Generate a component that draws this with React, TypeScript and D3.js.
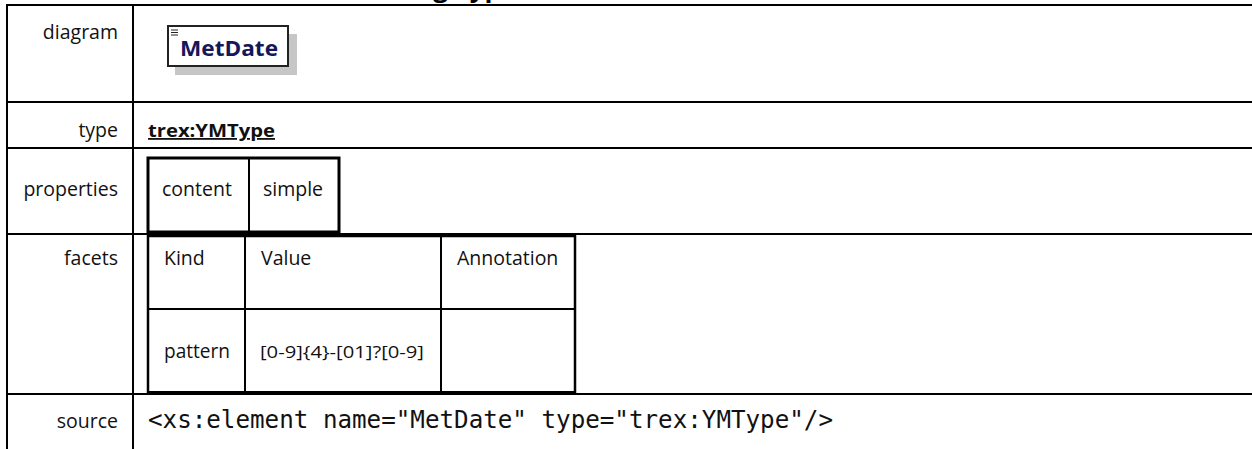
import { useEffect, useRef } from 'react';
import * as d3 from 'd3';

// row labels of the documentation table
const rowLabels = ['diagram', 'type', 'properties', 'facets', 'source'];
const elementName = 'MetDate';
const typeName = 'trex:YMType';
const propertyCells = ['content', 'simple'];
const facetHeaders = ['Kind', 'Value', 'Annotation'];
const facetRows = [['pattern', '[0-9]{4}-[01]?[0-9]', '']];
const sourceText = '<xs:element name="MetDate" type="trex:YMType"/>';

const W = 1252;
const H = 449;
const FONT = '"Open Sans", "Noto Sans", sans-serif';

export default function App() {
  const svgRef = useRef<SVGSVGElement>(null);

  useEffect(() => {
    if (!svgRef.current) return;
    const svg = d3.select(svgRef.current);
    svg.selectAll('*').remove();

    // row boundaries (top of each row) + bottom of the last visible one
    const rowTop = d3.scaleOrdinal<string, number>()
      .domain(rowLabels)
      .range([5, 102, 148, 234, 394]);
    const baseline = d3.scaleOrdinal<string, number>()
      .domain(rowLabels)
      .range([39, 137, 196, 265, 428]);

    const colLeft = 7;
    const colDiv = 133;
    const contentX = 148;

    // cut-off heading above the table
    svg.append('text')
      .attr('x', 118).attr('y', -3)
      .attr('font-family', FONT).attr('font-weight', 700).attr('font-size', 26)
      .text('MetDate element: Timing Type, ...');

    const g = svg.append('g');

    // horizontal row lines
    g.selectAll('line.row')
      .data(rowLabels)
      .enter()
      .append('line')
      .attr('x1', colLeft).attr('x2', W)
      .attr('y1', (d) => rowTop(d)).attr('y2', (d) => rowTop(d))
      .attr('stroke', '#000').attr('stroke-width', 2);

    // vertical lines
    [colLeft, colDiv].forEach((x) => {
      g.append('line')
        .attr('x1', x).attr('x2', x).attr('y1', 4).attr('y2', H)
        .attr('stroke', '#000').attr('stroke-width', 2);
    });

    // labels
    g.selectAll('text.lbl')
      .data(rowLabels)
      .enter()
      .append('text')
      .attr('x', 118)
      .attr('y', (d) => baseline(d))
      .attr('text-anchor', 'end')
      .attr('font-family', FONT).attr('font-size', 19.5).attr('fill', '#111')
      .text((d) => d);

    // diagram box
    const bx = 168, by = 26, bw = 120, bh = 40;
    g.append('rect').attr('x', bx + 7).attr('y', by + 8).attr('width', bw + 2).attr('height', bh + 1)
      .attr('fill', '#c6c6c6');
    g.append('rect').attr('x', bx).attr('y', by).attr('width', bw).attr('height', bh)
      .attr('fill', '#fff').attr('stroke', '#222').attr('stroke-width', 2);
    [0, 1, 2].forEach((i) => {
      g.append('line').attr('x1', bx + 3).attr('x2', bx + 10)
        .attr('y1', by + 4 + i * 2.5).attr('y2', by + 4 + i * 2.5)
        .attr('stroke', '#222').attr('stroke-width', 1);
    });
    g.append('text')
      .attr('x', bx + 12).attr('y', by + 30)
      .attr('font-family', FONT).attr('font-weight', 700).attr('font-size', 21)
      .attr('fill', '#14185a')
      .attr('textLength', 98).attr('lengthAdjust', 'spacingAndGlyphs')
      .text(elementName);

    // type link
    g.append('text')
      .attr('x', contentX).attr('y', baseline('type'))
      .attr('font-family', FONT).attr('font-weight', 700).attr('font-size', 18)
      .attr('fill', '#111').attr('text-decoration', 'underline')
      .attr('textLength', 127).attr('lengthAdjust', 'spacingAndGlyphs')
      .text(typeName);

    // properties inner table
    const propX = d3.scaleOrdinal<number, number>().domain([0, 1, 2]).range([148, 249, 339]);
    const pTop = 158, pBot = 232;
    g.append('rect').attr('x', 148).attr('y', pTop).attr('width', 339 - 148).attr('height', pBot - pTop)
      .attr('fill', 'none').attr('stroke', '#000').attr('stroke-width', 3);
    g.append('line').attr('x1', propX(1)).attr('x2', propX(1)).attr('y1', pTop).attr('y2', pBot)
      .attr('stroke', '#000').attr('stroke-width', 2);
    g.selectAll('text.prop')
      .data(propertyCells)
      .enter()
      .append('text')
      .attr('x', (_, i) => propX(i) + 14)
      .attr('y', baseline('properties'))
      .attr('font-family', FONT).attr('font-size', 19.5).attr('fill', '#111')
      .text((d) => d);

    // facets inner table
    const fx = d3.scaleOrdinal<number, number>().domain([0, 1, 2, 3]).range([148, 245, 441, 575]);
    const fTop = 236, fMid = 309, fBot = 393;
    g.append('rect').attr('x', 148).attr('y', fTop).attr('width', 575 - 148).attr('height', fBot - fTop)
      .attr('fill', 'none').attr('stroke', '#000').attr('stroke-width', 2.5);
    g.append('line').attr('x1', 148).attr('x2', 575).attr('y1', fBot).attr('y2', fBot)
      .attr('stroke', '#000').attr('stroke-width', 4);
    g.append('line').attr('x1', 148).attr('x2', 575).attr('y1', fMid).attr('y2', fMid)
      .attr('stroke', '#000').attr('stroke-width', 2);
    [1, 2].forEach((i) => {
      g.append('line').attr('x1', fx(i)).attr('x2', fx(i)).attr('y1', fTop).attr('y2', fBot)
        .attr('stroke', '#000').attr('stroke-width', 2);
    });
    g.selectAll('text.fh')
      .data(facetHeaders)
      .enter()
      .append('text')
      .attr('x', (_, i) => fx(i) + 16)
      .attr('y', baseline('facets'))
      .attr('font-family', FONT).attr('font-size', 19.5).attr('fill', '#111')
      .text((d) => d);
    facetRows.forEach((row) => {
      row.forEach((cell, i) => {
        if (!cell) return;
        g.append('text')
          .attr('x', fx(i) + (i === 0 ? 16 : 15))
          .attr('y', 358)
          .attr('font-family', FONT).attr('font-size', i === 1 ? 17 : 19.5).attr('fill', '#111')
          .attr('textLength', i === 1 ? 164 : 66).attr('lengthAdjust', 'spacingAndGlyphs')
          .text(cell);
      });
    });

    // source
    g.append('text')
      .attr('x', contentX).attr('y', baseline('source'))
      .attr('font-family', '"DejaVu Sans Mono", "Liberation Mono", monospace')
      .attr('font-size', 24).attr('fill', '#111')
      .attr('textLength', 685).attr('lengthAdjust', 'spacingAndGlyphs')
      .text(sourceText);
  }, []);

  return (
    <svg
      ref={svgRef}
      width={W}
      height={H}
      style={{ position: 'absolute', left: 0, top: 0, background: '#fff' }}
    ></svg>
  );
}
